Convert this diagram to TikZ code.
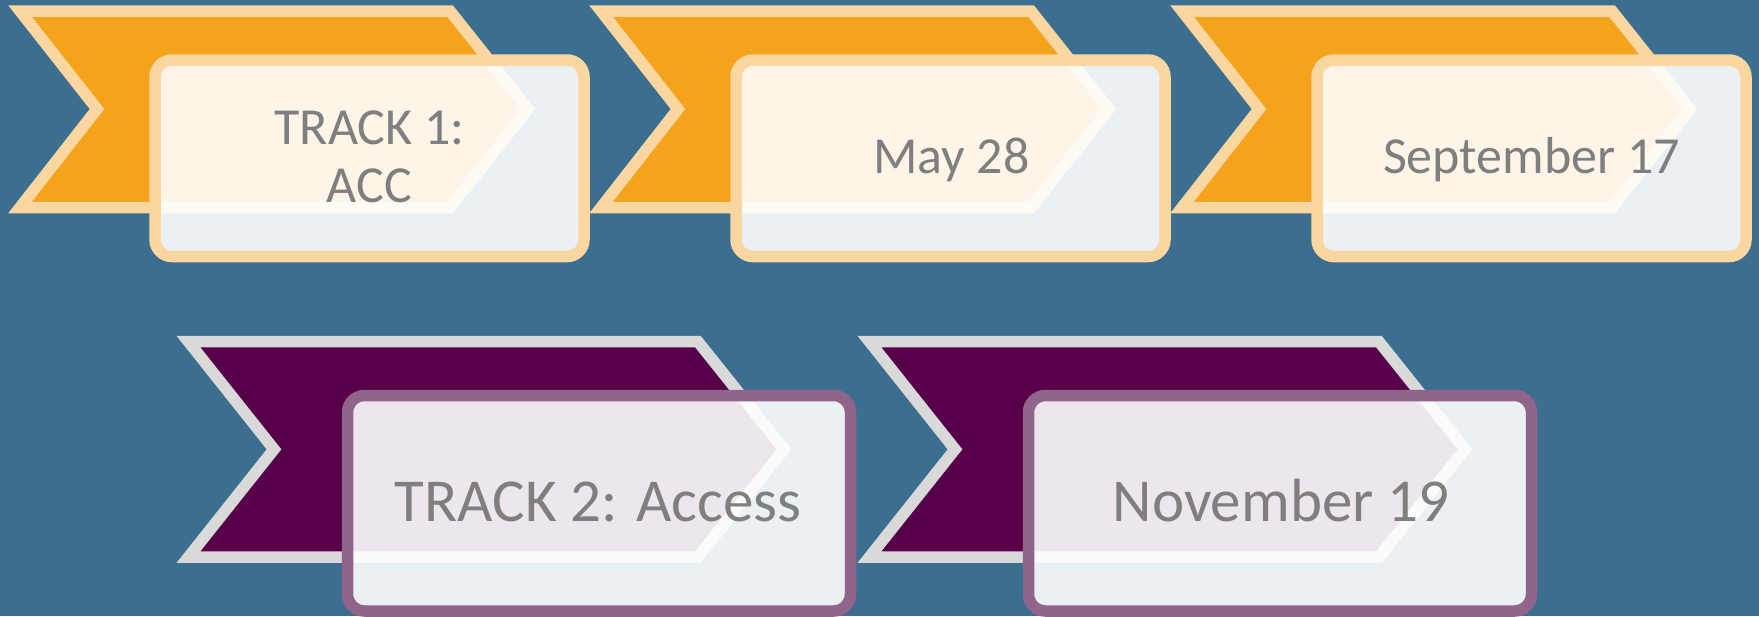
\documentclass[tikz,border=0pt]{standalone}
\usepackage{fontspec}
\setmainfont{Carlito}
\definecolor{bgblue}{HTML}{3C6E8F}
\definecolor{orangefill}{HTML}{F5A21C}
\definecolor{orangeline}{HTML}{FAD7A0}
\definecolor{purplefill}{HTML}{570049}
\definecolor{grayline}{HTML}{D9D9D9}
\definecolor{purpleline}{HTML}{91648C}
\definecolor{textgray}{HTML}{7F7F7F}
\begin{document}
\begin{tikzpicture}[x=1pt,y=-1pt,
  chevO/.style={fill=orangefill, draw=orangeline, line width=11.5pt, line join=miter},
  chevP/.style={fill=purplefill, draw=grayline, line width=11.5pt, line join=miter},
  cardbase/.style={line width=11.5pt, fill=white, fill opacity=0.9, draw opacity=1, text opacity=1,
    rounded corners=17pt, inner sep=0pt},
  cardO/.style={cardbase, draw=orangeline, minimum width=429pt, minimum height=196.5pt},
  cardP/.style={cardbase, draw=purpleline, minimum width=503pt, minimum height=215.5pt},
  lblS/.style={text=textgray, inner sep=0pt, anchor=base, font=\fontsize{52}{58}\selectfont},
  lblL/.style={text=textgray, inner sep=0pt, anchor=base, font=\fontsize{61}{70}\selectfont}
]
\fill[bgblue] (0,0) rectangle (1759,616);
\useasboundingbox (0,0) rectangle (1759,616);

% top row
\draw[chevO] (20,11) -- (450,11) -- (528,109) -- (450,207.5) -- (20,207.5) -- (97,109) -- cycle;
\node[cardO] (c1) at (369.5,158.25) {};
\node[lblS, align=center] (t1) at (369.5,202) {TRACK 1:\\ACC};

\draw[chevO] (601,11) -- (1031,11) -- (1109,109) -- (1031,207.5) -- (601,207.5) -- (678,109) -- cycle;
\node[cardO] (c2) at (950.5,158.25) {};
\node[lblS] (t2) at (951.5,173) {May 28};

\draw[chevO] (1182,11) -- (1612,11) -- (1690,109) -- (1612,207.5) -- (1182,207.5) -- (1259,109) -- cycle;
\node[cardO] (c3) at (1531.5,158.25) {};
\node[lblS] (t3) at (1531.5,173) {September 17};

% bottom row
\draw[chevP] (188.5,341.7) -- (698,341.7) -- (784,449.3) -- (698,557) -- (188.5,557) -- (274,449.3) -- cycle;
\node[cardP] (c4) at (599,503.25) {};
\node[lblL] (t4) at (598,521) {TRACK 2: Access};

\draw[chevP] (869.5,341.7) -- (1379,341.7) -- (1465,449.3) -- (1379,557) -- (869.5,557) -- (955,449.3) -- cycle;
\node[cardP] (c5) at (1280,503.25) {};
\node[lblL] (t5) at (1281,521) {November 19};
\end{tikzpicture}
\end{document}
